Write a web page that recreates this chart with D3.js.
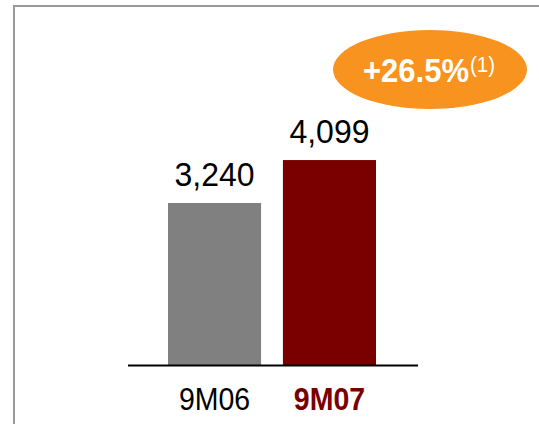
<!DOCTYPE html>
<html>
<head>
<meta charset="utf-8">
<script src="https://cdn.jsdelivr.net/npm/d3@7"></script>
<style>
  html, body { margin: 0; padding: 0; background: #fff; }
  svg { display: block; font-family: "Liberation Sans", Arial, sans-serif; }
</style>
</head>
<body>
<svg id="chart" width="539" height="424"></svg>
<script>
// Nine-month totals
const categories = ["9M06", "9M07"];
const values = [3240, 4099];
const valueLabels = ["3,240", "4,099"];
const growthLabel = "+26.5%";
const growthNote = "(1)";

const barColors = ["#808080", "#7a0000"];
const catColors = ["#000000", "#7a0000"];
const catWeights = ["normal", "bold"];

const svg = d3.select("#chart");
const W = 539, H = 424;

// frame (top and left edges)
svg.append("path")
  .attr("d", `M14,${H} V6 H${W}`)
  .attr("fill", "none")
  .attr("stroke", "#9a9a9a")
  .attr("stroke-width", 2);

const baseY = 365;
const y = d3.scaleLinear().domain([0, 5000]).range([baseY, baseY - 250]);
const x = d3.scaleBand().domain(categories).range([168, 376]).paddingInner(0.19).paddingOuter(0);

// bars
svg.selectAll("rect.bar")
  .data(values)
  .join("rect")
  .attr("class", "bar")
  .attr("x", (d, i) => x(categories[i]))
  .attr("width", x.bandwidth())
  .attr("y", d => y(d))
  .attr("height", d => y(0) - y(d))
  .attr("fill", (d, i) => barColors[i]);

// baseline
svg.append("line")
  .attr("x1", x.range()[0] - 40)
  .attr("x2", x.range()[1] + 42)
  .attr("y1", baseY + 0.5)
  .attr("y2", baseY + 0.5)
  .attr("stroke", "#000")
  .attr("stroke-width", 2);

// value labels (slightly tall lettering)
svg.selectAll("text.val")
  .data(values)
  .join("text")
  .attr("class", "val")
  .attr("transform", (d, i) => `translate(${x(categories[i]) + x.bandwidth() / 2},${y(d) - 17}) scale(1,1.04)`)
  .attr("text-anchor", "middle")
  .attr("font-size", 32)
  .attr("fill", "#000")
  .text((d, i) => valueLabels[i]);

// category labels
svg.selectAll("text.cat")
  .data(categories)
  .join("text")
  .attr("class", "cat")
  .attr("transform", d => `translate(${x(d) + x.bandwidth() / 2},410) scale(1,1.1)`)
  .attr("text-anchor", "middle")
  .attr("font-size", 28.5)
  .attr("font-weight", (d, i) => catWeights[i])
  .attr("fill", (d, i) => catColors[i])
  .text(d => d);

// growth badge
const badge = svg.append("g").attr("transform", "translate(430,69.5)");
badge.append("ellipse")
  .attr("rx", 97)
  .attr("ry", 39.5)
  .attr("fill", "#f7931e");
const t = badge.append("text")
  .attr("transform", "translate(-67,12.5) scale(1,1.07)")
  .attr("fill", "#fff");
t.append("tspan")
  .attr("font-size", 31)
  .attr("font-weight", "bold")
  .text(growthLabel);
t.append("tspan")
  .attr("font-size", 20.5)
  .attr("dx", 1)
  .attr("dy", -9.5)
  .text(growthNote);
</script>
</body>
</html>
